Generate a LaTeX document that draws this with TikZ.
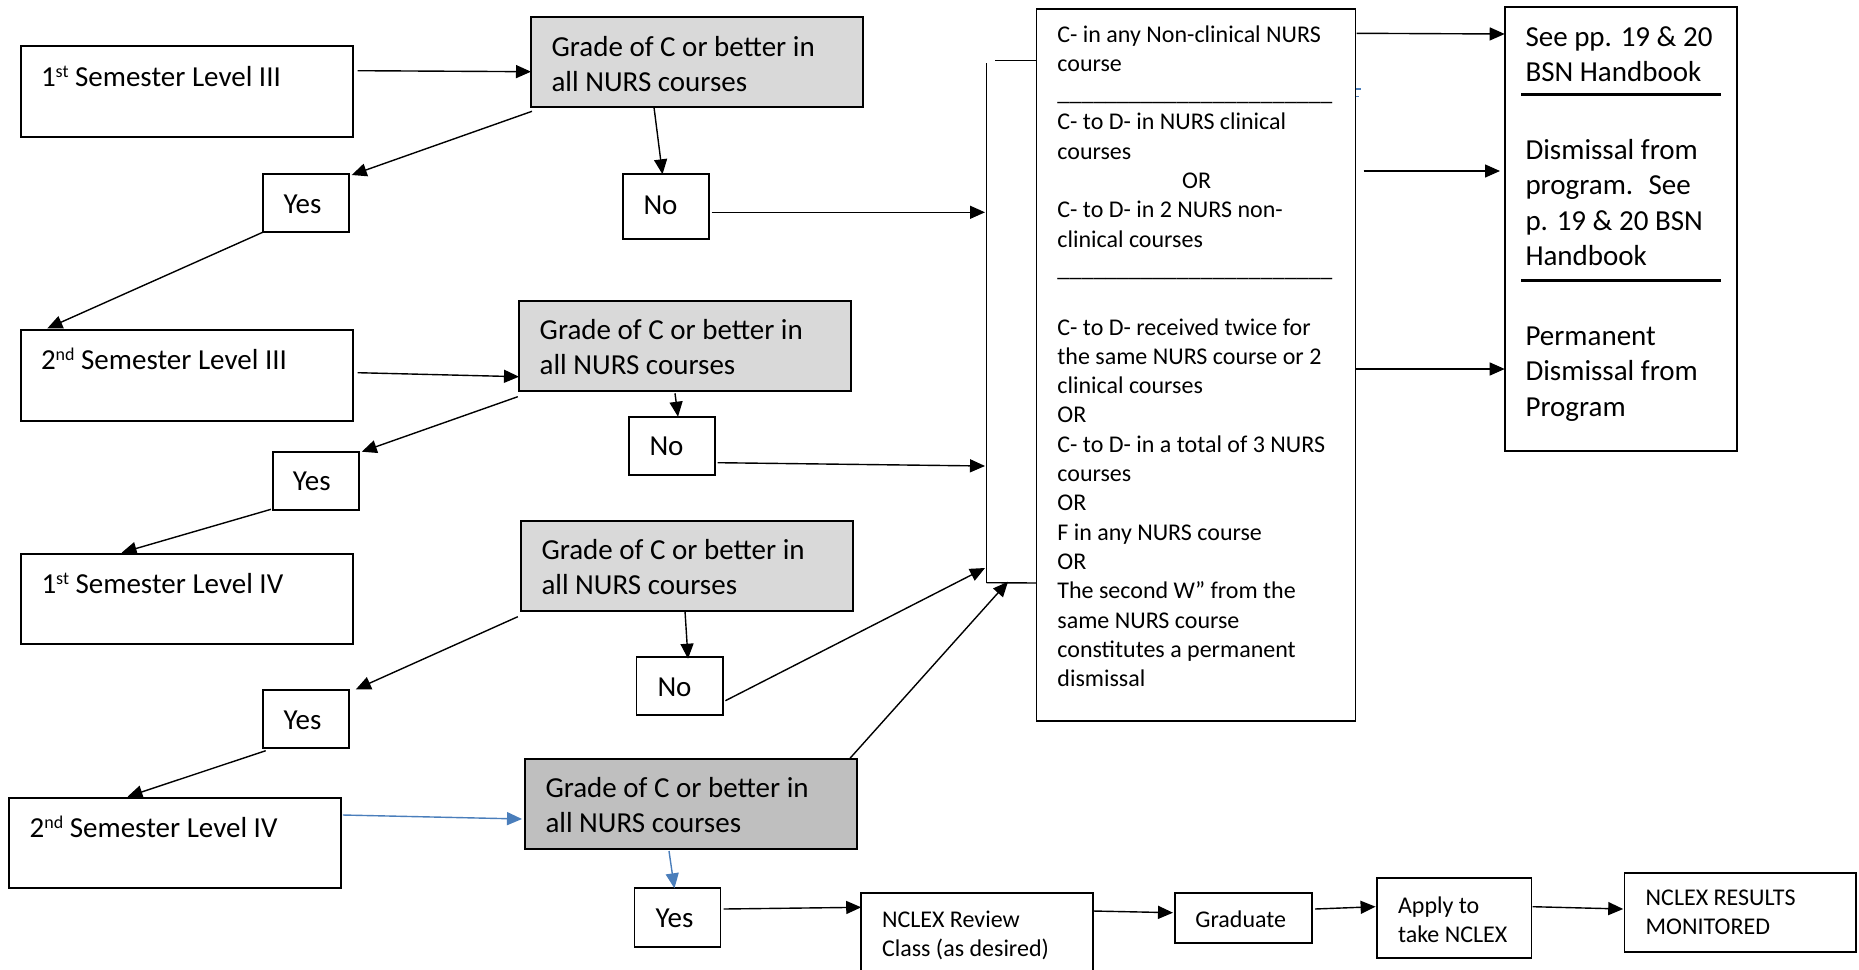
\documentclass[tikz,border=0pt]{standalone}
\usepackage{fontspec}
\setmainfont{Carlito}
\usetikzlibrary{arrows.meta,calc}
\definecolor{lightg}{HTML}{D9D9D9}
\definecolor{darkg}{HTML}{BFBFBF}
\definecolor{wblue}{HTML}{4A7EBB}
\newcommand{\mysup}[1]{\raisebox{9pt}{\fontsize{18}{18}\selectfont #1}}
\begin{document}
\begin{tikzpicture}[x=1pt,y=-1pt,
  box/.style={draw, line width=1.7pt, inner sep=0pt, outer sep=0pt, anchor=north west},
  gbox/.style={box, fill=lightg},
  dbox/.style={box, fill=darkg},
  bigt/.style={font=\fontsize{29}{35.4}\selectfont, inner sep=0pt, outer sep=0pt},
  smt/.style={font=\fontsize{24}{29.3}\selectfont, inner sep=0pt, outer sep=0pt},
  ln/.style={draw, line width=1.4pt},
  arr/.style={ln, -{Triangle[length=15pt,width=13pt]}},
  barr/.style={draw=wblue, line width=1.4pt, -{Triangle[length=15pt,width=13pt]}, wblue},
  sepl/.style={draw, line width=3pt}]
\useasboundingbox (0,0) rectangle (1859,969);
\fill[white] (0,0) rectangle (1859,969);
\clip (0,0) rectangle (1859,969);

% ---------- boxes ----------
\node[box, minimum width=332.2pt, minimum height=90.7pt] (s1) at (20.8,46) {};
\node[box, minimum width=332.2pt, minimum height=90.7pt] (s2) at (20.8,330) {};
\node[box, minimum width=332.2pt, minimum height=90pt] (s3) at (20.8,554) {};
\node[box, minimum width=332.1pt, minimum height=90pt] (s4) at (8.9,798.3) {};
\node[gbox, minimum width=332pt, minimum height=90pt] (g1) at (531,16.7) {};
\node[gbox, minimum width=332pt, minimum height=90pt] (g2) at (519,300.7) {};
\node[gbox, minimum width=332.2pt, minimum height=90.3pt] (g3) at (520.7,520.7) {};
\node[dbox, minimum width=332pt, minimum height=90pt] (g4) at (525,759) {};
\node[box, minimum width=86pt, minimum height=57.7pt] (y1) at (262.7,174) {};
\node[box, minimum width=86pt, minimum height=58.3pt] (y2) at (272.8,451.7) {};
\node[box, minimum width=86pt, minimum height=58.3pt] (y3) at (262.7,690) {};
\node[box, minimum width=86pt, minimum height=58.4pt] (y4) at (634.6,888.3) {};
\node[box, minimum width=86pt, minimum height=64.7pt] (n1) at (622.7,174.3) {};
\node[box, minimum width=86pt, minimum height=58.3pt] (n2) at (628.7,416.7) {};
\node[box, minimum width=86.6pt, minimum height=58.3pt] (n3) at (636.4,656.7) {};
\node[box, minimum width=318.8pt, minimum height=711.7pt] (mid) at (1036.6,9) {};
\node[box, minimum width=232.3pt, minimum height=444pt] (rb) at (1504.7,6.7) {};
\node[box, minimum width=231.8pt, minimum height=100pt] (nr) at (861.2,892.7) {};
\node[box, minimum width=137.5pt, minimum height=50.6pt] (gr) at (1174.7,892.7) {};
\node[box, minimum width=154.1pt, minimum height=80pt] (ap) at (1377.3,878.3) {};
\node[box, minimum width=231.6pt, minimum height=79pt] (res) at (1624.4,872.7) {};

% separators in right box
\draw[sepl] ($(rb.north west)+(16.6,87.3)$) -- ++(199.7,0);
\draw[sepl] ($(rb.north west)+(16.6,273.3)$) -- ++(199.7,0);

% small blue ticks
\draw[wblue, line width=1.5pt] ($(mid.north east)+(0.5,80)$) -- ++(5.5,0);
\draw[wblue, line width=1.5pt] ($(mid.north east)+(0.5,87.7)$) -- ++(3.5,0);

% ---------- texts ----------
\node[bigt, anchor=base west] (ts1) at (41,86) {1\mysup{st} Semester Level III};
\node[bigt, anchor=base west] (ts2) at (41,369) {2\mysup{nd} Semester Level III};
\node[bigt, anchor=base west] (ts3) at (41.5,593) {1\mysup{st} Semester Level IV};
\node[bigt, anchor=base west] (ts4) at (29.7,837) {2\mysup{nd} Semester Level IV};
\node[bigt, anchor=north west, align=left] (tg1) at (551.6,32) {\rule{0pt}{24pt}Grade of C or better in\\all NURS courses};
\node[bigt, anchor=north west, align=left] (tg2) at (539.7,315.5) {\rule{0pt}{24pt}Grade of C or better in\\all NURS courses};
\node[bigt, anchor=north west, align=left] (tg3) at (541.5,535) {\rule{0pt}{24pt}Grade of C or better in\\all NURS courses};
\node[bigt, anchor=north west, align=left] (tg4) at (545.5,773) {\rule{0pt}{24pt}Grade of C or better in\\all NURS courses};
\node[bigt, anchor=base west] (ty1) at (283.5,213.3) {Yes};
\node[bigt, anchor=base west] (ty2) at (292.8,490.7) {Yes};
\node[bigt, anchor=base west] (ty3) at (283.5,729.2) {Yes};
\node[bigt, anchor=base west] (ty4) at (655.5,927.3) {Yes};
\node[bigt, anchor=base west] (tn1) at (643.5,214.3) {No};
\node[bigt, anchor=base west] (tn2) at (649.5,455.2) {No};
\node[bigt, anchor=base west] (tn3) at (657.5,696) {No};

\node[smt, anchor=north west, align=left] (tmid) at (1057.4,22) {\rule{0pt}{20pt}C- in any Non-clinical NURS\\
course\\
\_\_\_\_\_\_\_\_\_\_\_\_\_\_\_\_\_\_\_\_\_\_\_\\
C- to D- in NURS clinical\\
courses\\
\hspace*{124.7pt}OR\\
C- to D- in 2 NURS non-\\
clinical courses\\
\_\_\_\_\_\_\_\_\_\_\_\_\_\_\_\_\_\_\_\_\_\_\_\\
\mbox{}\\
C- to D- received twice for\\
the same NURS course or 2\\
clinical courses\\
OR\\
C- to D- in a total of 3 NURS\\
courses\\
OR\\
F in any NURS course\\
OR\\
The second W” from the\\
same NURS course\\
constitutes a permanent\\
dismissal};

\node[bigt, anchor=north west, align=left] (trb1) at (1525.5,22) {\rule{0pt}{24pt}See pp. 19 \& 20\\BSN Handbook};
\node[bigt, anchor=north west, align=left] (trb2) at (1525.5,135.5) {\rule{0pt}{24pt}Dismissal from\\program.~ See\\p. 19 \& 20 BSN\\Handbook};
\node[bigt, anchor=north west, align=left] (trb3) at (1525.5,321.5) {\rule{0pt}{24pt}Permanent\\Dismissal from\\Program};

\node[smt, anchor=north west, align=left] (tnr) at (882,907) {\rule{0pt}{20pt}NCLEX Review\\Class (as desired)};
\node[smt, anchor=base west] (tgr) at (1195.4,927.7) {Graduate};
\node[smt, anchor=north west, align=left] (tap) at (1398,893) {\rule{0pt}{20pt}Apply to\\take NCLEX};
\node[smt, anchor=north west, align=left] (tres) at (1645.7,885.5) {\rule{0pt}{20pt}NCLEX RESULTS\\MONITORED};

% ---------- connectors ----------
\draw[arr] ($(s1.north east)+(4.6,24.7)$) -- ($(g1.north west)+(0,55)$);
\draw[arr] ($(g1.south west)+(1,4.6)$) -- ($(y1.north east)+(3,1)$);
\draw[arr] ($(g1.south west)+(123,0.6)$) -- ($(n1.north west)+(39.8,0)$);
\draw[arr] ($(y1.south west)+(0,0.6)$) -- ($(s2.north west)+(26.6,-1.7)$);
\draw[arr] ($(s2.north east)+(4.6,42.7)$) -- ($(g2.north west)+(0,76)$);
\draw[arr] ($(g2.south west)+(-1.2,6)$) -- ($(y2.north east)+(3,0)$);
\draw[arr] ($(g2.south west)+(156,2.6)$) -- ($(n2.north west)+(49.3,0)$);
\draw[arr] ($(y2.south west)+(-1.8,-0.7)$) -- ($(s3.north west)+(100.8,-1.3)$);
\draw[arr] ($(g3.south west)+(-2.9,5.7)$) -- ($(y3.north east)+(7.2,-0.7)$);
\draw[arr] ($(g3.south west)+(164.3,0)$) -- ($(n3.north west)+(51.6,2)$);
\draw[arr] ($(y3.south west)+(3,2.4)$) -- ($(s4.north west)+(118.6,-1.6)$);
\draw[barr] ($(s4.north east)+(1.8,16.7)$) -- ($(g4.north west)+(-3,60)$);
\draw[barr] ($(g4.south west)+(144,2)$) -- ($(y4.north west)+(39.8,0)$);
\draw[arr] ($(y4.north east)+(3,20.7)$) -- ($(nr.north west)+(0,14.6)$);
\draw[arr] ($(nr.north east)+(0,18.3)$) -- ($(gr.north west)+(-1.7,20)$);
\draw[arr] ($(gr.north east)+(2.8,16.3)$) -- ($(ap.north west)+(-1.7,28.4)$);
\draw[arr] ($(ap.north east)+(1.2,28.4)$) -- ($(res.north west)+(-1.2,36.3)$);

% bracket on the left of the middle box
\coordinate (brt) at ($(mid.north west)+(-50.1,54.3)$);
\coordinate (brb) at ($(mid.north west)+(-50.1,573.7)$);
\draw[ln] (brt) -- (brb);
\draw[ln] ($(mid.north west)+(-41.6,51.7)$) -- ($(mid.north west)+(0,51.7)$);
\draw[ln] (brb) -- ($(mid.north west)+(0,574)$);

\draw[arr] ($(n1.north east)+(3,38)$) -- ($(brt)+(-1.5,149)$);
\draw[arr] ($(n2.north east)+(2.9,46)$) -- ($(brt)+(-1.5,402.7)$);
\draw[arr] ($(n3.north east)+(2.4,44)$) -- ($(brt)+(-1.5,504.7)$);
\draw[arr] ($(g4.north east)+(-7,-0.7)$) -- ($(brb)+(21.5,-1)$);

% middle box to right box
\draw[arr] ($(mid.north east)+(1.2,24.3)$) -- ($(rb.north west)+(0,27.3)$);
\draw[arr] ($(mid.north east)+(8.3,162)$) -- ($(rb.north west)+(-4.7,164.3)$);
\draw[arr] ($(mid.north east)+(0,360)$) -- ($(rb.north west)+(0,362.3)$);
\end{tikzpicture}
\end{document}
